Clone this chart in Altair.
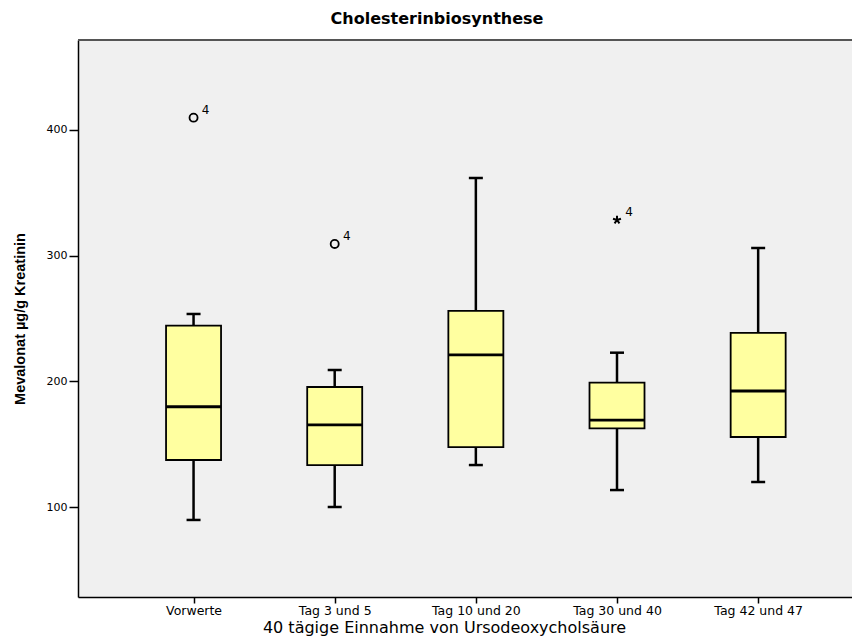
import altair as alt
import pandas as pd

categories = ["Vorwerte", "Tag 3 und 5", "Tag 10 und 20", "Tag 30 und 40", "Tag 42 und 47"]
whisker_low = [89.7, 100.0, 133.4, 113.5, 119.9]
q1 = [137.4, 133.4, 147.7, 162.6, 155.7]
median = [179.8, 165.3, 221.0, 169.2, 192.3]
q3 = [244.3, 195.5, 256.0, 198.9, 238.5]
whisker_high = [253.6, 209.0, 361.8, 222.8, 306.1]

outlier_group = [0, 1, 3]
outlier_value = [409.8, 309.3, 328.4]
outlier_kind = ["circle", "circle", "star"]
outlier_label = ["4", "4", "4"]

y_ticks = [100, 200, 300, 400]

boxes = pd.DataFrame({
    "idx": list(range(len(categories))),
    "group": categories,
    "lo": whisker_low,
    "q1": q1,
    "median": median,
    "q3": q3,
    "hi": whisker_high,
})
outliers = pd.DataFrame({
    "idx": outlier_group,
    "value": outlier_value,
    "kind": outlier_kind,
    "label": outlier_label,
})

W, H = 774, 557
xscale = alt.Scale(domain=[-0.7832, 4.6294], nice=False, zero=False)
yscale = alt.Scale(domain=[28.4, 471.6], nice=False, zero=False)
label_expr = "[" + ",".join("'" + c + "'" for c in categories) + "][datum.value]"

x_axis = alt.Axis(
    values=list(range(len(categories))), labelExpr=label_expr,
    title="40 tägige Einnahme von Ursodeoxycholsäure", grid=False,
    domainColor="black", domainWidth=1.5, tickColor="black", tickSize=6,
    tickWidth=1.5, labelPadding=1, labelFont="DejaVu Sans", labelFontSize=12.5,
    labelColor="black", labelFlush=False, labelOverlap=False,
    titleFont="DejaVu Sans", titleFontSize=16, titleFontWeight="normal",
    titleColor="black", titlePadding=3, titleX=366,
)
y_axis = alt.Axis(
    values=y_ticks, title="Mevalonat µg/g Kreatinin", grid=False,
    domainColor="black", domainWidth=1.5, tickColor="black", tickSize=9,
    tickWidth=1.5, labelPadding=2, labelFont="DejaVu Sans", labelFontSize=11,
    labelColor="black", titleFont="Liberation Sans", titleFontSize=14.5,
    titleFontWeight="bold", titleColor="black", titlePadding=19,
)


def X():
    return alt.X("idx:Q", scale=xscale, axis=x_axis)


def Y(field):
    return alt.Y(field + ":Q", scale=yscale, axis=y_axis)


base = alt.Chart(boxes)

border = alt.Chart(pd.DataFrame({"a": [0]})).mark_rule(
    color="#555555", strokeWidth=2
).encode(x=alt.value(0), x2=alt.value(W), y=alt.value(0))

whisker = base.mark_rule(color="black", strokeWidth=2.5, opacity=1).encode(
    x=X(), y=Y("lo"), y2="hi:Q"
)
cap_lo = base.mark_tick(orient="horizontal", size=14, thickness=2.5, color="black", opacity=1).encode(
    x=X(), y=Y("lo")
)
cap_hi = base.mark_tick(orient="horizontal", size=14, thickness=2.5, color="black", opacity=1).encode(
    x=X(), y=Y("hi")
)
box = base.mark_bar(
    orient="vertical", size=55, fill="#ffffa0", stroke="black", strokeWidth=1.8, opacity=1
).encode(x=X(), y=Y("q1"), y2="q3:Q")
med = base.mark_tick(orient="horizontal", size=55, thickness=2.8, color="black", opacity=1).encode(
    x=X(), y=Y("median")
)

obase = alt.Chart(outliers)
circles = obase.transform_filter("datum.kind == 'circle'").mark_point(
    shape="circle", filled=False, size=65, strokeWidth=1.8, color="black", opacity=1
).encode(x=X(), y=Y("value"))
star_path = ("M0,0L0,-1M0,0L0.951,-0.309M0,0L0.588,0.809"
             "M0,0L-0.588,0.809M0,0L-0.951,-0.309")
stars = obase.transform_filter("datum.kind == 'star'").mark_point(
    shape=star_path, filled=False, size=70, strokeWidth=2, color="black", opacity=1
).encode(x=X(), y=Y("value"))
labels = obase.mark_text(
    dx=12, dy=-8, fontSize=12, font="DejaVu Sans", color="black"
).encode(x=X(), y=Y("value"), text="label:N")

chart = alt.layer(
    border, whisker, cap_lo, cap_hi, box, med, circles, stars, labels
).properties(
    width=W, height=H,
    title=alt.TitleParams(
        "Cholesterinbiosynthese", font="DejaVu Sans", fontSize=16,
        fontWeight="bold", anchor="middle", dx=-28, offset=12,
        color="black",
    ),
    padding={"left": 70, "top": 32, "right": 0, "bottom": 44},
    autosize=alt.AutoSizeParams(type="none"),
    background="white",
).configure_view(fill="#f0f0f0", stroke="transparent")

chart.save("out.html", embed_options={"renderer": "svg", "actions": False})
